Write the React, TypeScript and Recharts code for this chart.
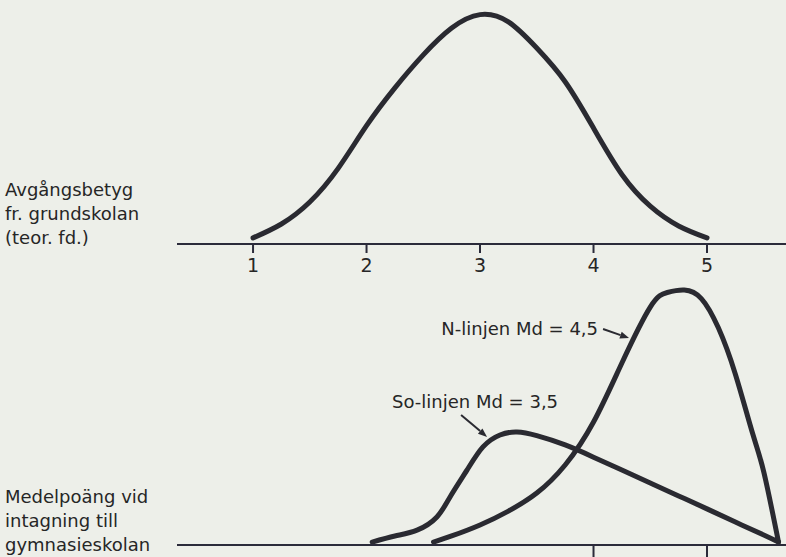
import { LineChart, Line, XAxis, YAxis, ReferenceLine } from "recharts";

// Avgångsbetyg från grundskolan (teoretiskt fördelad), relativ frekvens
const betygX = [1, 1.25, 1.5, 1.75, 2, 2.25, 2.5, 2.75, 3, 3.25, 3.5, 3.75, 4, 4.25, 4.5, 4.75, 5];
const betygY = [2.5, 8.2, 17.2, 31, 48.5, 64, 77.5, 88.5, 94, 91, 80.3, 66.5, 47.5, 28.5, 15.5, 7.4, 2.5];

// Medelpoäng vid intagning till gymnasieskolan
const soX = [2.05, 2.25, 2.445, 2.62, 2.736, 2.885, 3.026, 3.176, 3.326, 3.5, 3.75, 4, 4.25, 4.5, 4.75, 5, 5.25, 5.5, 5.63];
const soY = [1.2, 3.7, 6.1, 11.5, 19.7, 30.7, 40.2, 45.1, 46.3, 44.8, 41, 36, 30.7, 25.4, 20.1, 14.8, 9.4, 4.1, 1.2];

const nX = [2.59, 2.75, 3, 3.25, 3.5, 3.75, 4, 4.25, 4.5, 4.65, 4.8, 4.95, 5.1, 5.25, 5.4, 5.5, 5.63];
const nY = [1.2, 3.7, 8.2, 13.9, 21.3, 32.8, 50.4, 74.6, 97.5, 103.5, 104.5, 101, 89, 70, 46, 30, 1.2];

const topTicks = [1, 2, 3, 4, 5];
const bottomTicks = [4, 5];
const xDomain: [number, number] = [0.33, 5.696];

const topLabel = ["Avgångsbetyg", "fr. grundskolan", "(teor. fd.)"];
const bottomLabel = ["Medelpoäng vid", "intagning till", "gymnasieskolan"];

const nNote = { text: "N-linjen Md = 4,5", from: [4.084, 88.5], to: [4.313, 84.8] };
const soNote = { text: "So-linjen Md = 3,5", from: [2.833, 53.3], to: [3.062, 44.3] };

const toPoints = (xs: number[], ys: number[]) => xs.map((x, i) => ({ x, y: ys[i] }));
const betyg = toPoints(betygX, betygY);
const so = toPoints(soX, soY);
const nLinjen = toPoints(nX, nY);

const INK = "#2a2a31";
const AXIS = "#2b2b3a";
const TEXT = "#262626";
const FONT = "'DejaVu Sans', sans-serif";

const arrowShape = (label: string, textDx: number, textDy: number, anchor: "start" | "end") => (props: any) => {
  const { x1, y1, x2, y2 } = props;
  const ang = Math.atan2(y2 - y1, x2 - x1);
  const L = 9;
  const W = 3.5;
  const bx = x2 - L * Math.cos(ang);
  const by = y2 - L * Math.sin(ang);
  const px = -Math.sin(ang) * W;
  const py = Math.cos(ang) * W;
  return (
    <g>
      <line x1={x1} y1={y1} x2={bx} y2={by} stroke={INK} strokeWidth={2} />
      <polygon points={`${x2},${y2} ${bx + px},${by + py} ${bx - px},${by - py}`} fill={INK} />
      <text x={x1 + textDx} y={y1 + textDy} fill={TEXT} fontSize={18} fontFamily={FONT} textAnchor={anchor}>
        {label}
      </text>
    </g>
  );
};

const labelStyle = (top: number): React.CSSProperties => ({
  position: "absolute",
  left: 5,
  top,
  fontFamily: FONT,
  fontSize: 18,
  lineHeight: "24px",
  color: TEXT,
});

export default function App() {
  return (
    <div style={{ position: "fixed", left: 0, top: 0, width: 786, height: 557, background: "#edefe9", overflow: "hidden" }}>
      <div style={labelStyle(178)}>
        {topLabel.map((t) => (
          <div key={t}>{t}</div>
        ))}
      </div>
      <div style={labelStyle(485)}>
        {bottomLabel.map((t) => (
          <div key={t}>{t}</div>
        ))}
      </div>

      <div style={{ position: "absolute", left: 0, top: 0 }}>
        <LineChart width={786} height={290} margin={{ top: 0, right: 0, left: 177, bottom: 0 }}>
          <XAxis
            type="number"
            dataKey="x"
            domain={xDomain}
            ticks={topTicks}
            allowDataOverflow
            height={46}
            tickSize={9}
            tickMargin={6}
            stroke={AXIS}
            strokeWidth={2}
            tick={{ fill: TEXT, fontSize: 19, fontFamily: FONT }}
          />
          <YAxis hide domain={[0, 100]} />
          <Line
            data={betyg}
            dataKey="y"
            type="natural"
            stroke={INK}
            strokeWidth={5}
            strokeLinecap="round"
            dot={false}
            isAnimationActive={false}
          />
        </LineChart>
      </div>

      <div style={{ position: "absolute", left: 0, top: 0 }}>
        <LineChart width={786} height={557} margin={{ top: 252.2, right: 0, left: 177, bottom: 0 }}>
          <XAxis
            type="number"
            dataKey="x"
            domain={xDomain}
            ticks={bottomTicks}
            allowDataOverflow
            height={12}
            tickSize={12}
            tickFormatter={() => ""}
            stroke={AXIS}
            strokeWidth={2}
          />
          <YAxis hide domain={[0, 120]} />
          <Line
            data={so}
            dataKey="y"
            type="natural"
            stroke={INK}
            strokeWidth={5}
            strokeLinecap="round"
            dot={false}
            isAnimationActive={false}
          />
          <Line
            data={nLinjen}
            dataKey="y"
            type="natural"
            stroke={INK}
            strokeWidth={5}
            strokeLinecap="round"
            dot={false}
            isAnimationActive={false}
          />
          <ReferenceLine
            segment={[
              { x: nNote.from[0], y: nNote.from[1] },
              { x: nNote.to[0], y: nNote.to[1] },
            ]}
            shape={arrowShape(nNote.text, -5, 6, "end")}
          />
          <ReferenceLine
            segment={[
              { x: soNote.from[0], y: soNote.from[1] },
              { x: soNote.to[0], y: soNote.to[1] },
            ]}
            shape={arrowShape(soNote.text, -69, -7, "start")}
          />
        </LineChart>
      </div>
    </div>
  );
}
